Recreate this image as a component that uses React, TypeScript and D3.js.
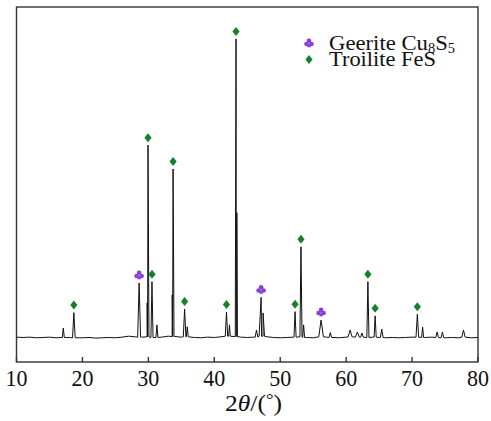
import React from "react";
import * as d3 from "d3";

// ---- data ----
const bgAngles = d3.range(10, 81, 1);
const bgValues = [
  77, 76, 77, 75, 76, 77, 75, 76, 76, 75, 75, 76, 74, 75, 76, 75, 77, 80, 78, 77,
  78, 76, 77, 80, 79, 77, 78, 76, 75, 77, 76, 78, 80, 79, 77, 76, 77, 80, 78, 76,
  75, 76, 77, 78, 76, 75, 78, 77, 76, 75, 77, 78, 77, 76, 77, 76, 75, 76, 75, 76,
  77, 77, 76, 77, 76, 75, 76, 75, 77, 75, 76,
];

const peakPos = [17.1, 18.7, 28.6, 29.82, 29.95, 30.55, 31.3, 33.62, 33.75, 35.5, 35.9, 41.85, 42.3, 43.3, 43.42, 46.4, 47.1, 47.4, 52.25, 53.15, 53.55, 56.2, 57.6, 60.6, 61.7, 62.4, 63.3, 64.4, 65.4, 70.8, 71.6, 73.8, 74.6, 77.8];
const peakTop = [105, 153, 245, 183, 672, 249, 115, 208, 598, 164, 109, 155, 115, 1001, 462, 99, 200, 152, 156, 357, 115, 130, 91, 99, 93, 90, 249, 143, 102, 148, 108, 93, 93, 99];
const peakWidth = [0.15, 0.2, 0.22, 0.06, 0.14, 0.16, 0.15, 0.06, 0.14, 0.2, 0.15, 0.18, 0.12, 0.12, 0.08, 0.2, 0.3, 0.22, 0.16, 0.16, 0.15, 0.35, 0.2, 0.3, 0.3, 0.2, 0.16, 0.16, 0.2, 0.2, 0.15, 0.2, 0.2, 0.25];

const geeriteMarks = [28.6, 47.1, 56.2];
const troiliteMarks = [18.7, 29.95, 30.55, 33.75, 35.5, 41.85, 43.3, 52.25, 53.15, 63.3, 64.4, 70.8];

const xTicks = [10, 20, 30, 40, 50, 60, 70, 80];

// ---- layout ----
const W = 491, H = 421;
const L = 16.5, R = 478, T = 7, B = 362;
const FONT = "Liberation Serif";
const GREEN = "#14822a";
const PURPLE = "#8a3ed4";

const x = d3.scaleLinear().domain([10, 80]).range([L, R]);
const y = d3.scaleLinear().domain([0, 1100]).range([B, T]);

function bgAt(a: number) {
  const i = Math.max(0, Math.min(bgValues.length - 1, Math.round(a - 10)));
  return bgValues[i];
}

function buildPoints(): [number, number][] {
  const pts: [number, number][] = [];
  bgAngles.forEach((a, i) => {
    const inside = peakPos.some((c, k) => a > c - peakWidth[k] && a < c + peakWidth[k]);
    if (!inside) pts.push([a, bgValues[i]]);
  });
  peakPos.forEach((c, k) => {
    const w = peakWidth[k];
    pts.push([c - w, bgAt(c)]);
    pts.push([c, peakTop[k]]);
    pts.push([c + w, bgAt(c)]);
  });
  pts.sort((p, q) => p[0] - q[0]);
  return pts;
}

function topOf(a: number) {
  const k = peakPos.indexOf(a);
  return peakTop[k];
}

const Diamond = ({ cx, cy }: { cx: number; cy: number }) => (
  <path d={`M${cx},${cy - 4.5}L${cx + 3.6},${cy}L${cx},${cy + 4.5}L${cx - 3.6},${cy}Z`} fill={GREEN} />
);

const Club = ({ cx, cy }: { cx: number; cy: number }) => (
  <g fill={PURPLE}>
    <circle cx={cx} cy={cy - 2.2} r={2.3} />
    <circle cx={cx - 2.5} cy={cy + 1} r={2.3} />
    <circle cx={cx + 2.5} cy={cy + 1} r={2.3} />
    <path d={`M${cx},${cy}L${cx - 2},${cy + 4.2}L${cx + 2},${cy + 4.2}Z`} />
  </g>
);

export default function App() {
  const pts = buildPoints();
  const line = d3.line<[number, number]>().x((d) => x(d[0])).y((d) => y(d[1]));
  return (
    <svg width={W} height={H} style={{ position: "absolute", left: 0, top: 0, background: "#fff" }}>
      <path d={line(pts) || ""} fill="none" stroke="#111" strokeWidth={1} strokeLinejoin="round" />
      {troiliteMarks.map((a) => (
        <Diamond key={"t" + a} cx={x(a)} cy={y(topOf(a)) - 7.5} />
      ))}
      {geeriteMarks.map((a) => (
        <Club key={"g" + a} cx={x(a)} cy={y(topOf(a)) - 8} />
      ))}
      <rect x={L} y={T} width={R - L} height={B - T} fill="none" stroke="#333" strokeWidth={1.4} />
      {xTicks.map((t) => (
        <g key={t}>
          <line x1={x(t)} x2={x(t)} y1={B} y2={B - 5} stroke="#333" strokeWidth={1.4} />
          <text x={x(t)} y={386} textAnchor="middle" fontFamily={FONT} fontSize={23} fill="#111"
            textLength={22} lengthAdjust="spacingAndGlyphs">
            {t}
          </text>
        </g>
      ))}
      <text x={225} y={411} fontFamily={FONT} fontSize={23} fill="#111"
        textLength={57} lengthAdjust="spacingAndGlyphs">
        2<tspan fontStyle="italic">θ</tspan>/(<tspan fontSize={17} dy={-6}>°</tspan><tspan dy={6}>)</tspan>
      </text>
      <Club cx={309} cy={43} />
      <Diamond cx={309} cy={59.5} />
      <text x={329} y={49.5} fontFamily={FONT} fontSize={22} fill="#111"
        textLength={126} lengthAdjust="spacingAndGlyphs">
        {"Geerite Cu"}<tspan fontSize={14} dy={3}>8</tspan><tspan dy={-3}>S</tspan><tspan fontSize={14} dy={3}>5</tspan>
      </text>
      <text x={329} y={66} fontFamily={FONT} fontSize={22} fill="#111"
        textLength={107} lengthAdjust="spacingAndGlyphs">
        Troilite FeS
      </text>
    </svg>
  );
}
